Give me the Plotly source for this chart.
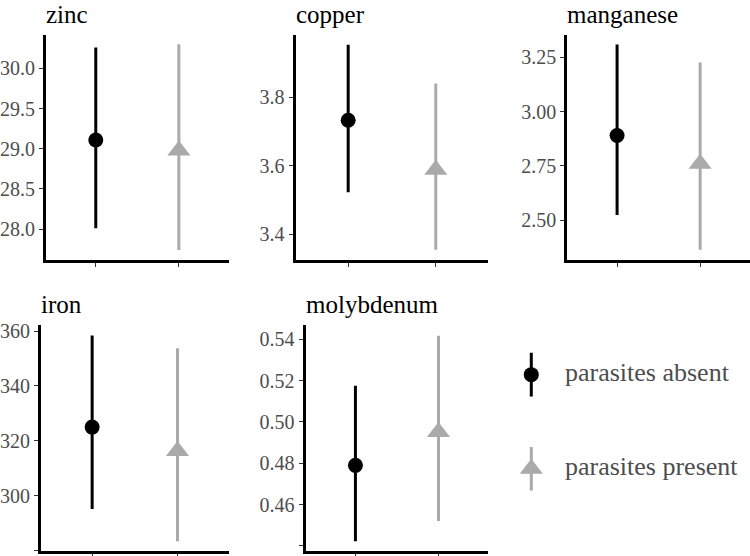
import plotly.graph_objects as go

# ------------------------------------------------------------
# Datos (media e intervalo por mineral)
# ------------------------------------------------------------
MINERALES = ["zinc", "copper", "manganese", "iron", "molybdenum"]
GRUPOS = ["parasites absent", "parasites present"]

ausente_media = [29.11, 3.733, 2.89, 325.0, 0.479]
ausente_inf = [28.01, 3.522, 2.523, 295.1, 0.4423]
ausente_sup = [30.26, 3.954, 3.31, 358.4, 0.5175]

presente_media = [28.98, 3.588, 2.76, 316.3, 0.4951]
presente_inf = [27.74, 3.354, 2.363, 283.4, 0.452]
presente_sup = [30.30, 3.84, 3.227, 353.8, 0.5418]

# rangos y ticks del eje y de cada panel
rangos_y = [[27.62, 30.42], [3.325, 3.983], [2.317, 3.355], [279.8, 362.2], [0.4375, 0.5469]]
ticks_y = [
    [28.0, 28.5, 29.0, 29.5, 30.0],
    [3.4, 3.6, 3.8],
    [2.50, 2.75, 3.00, 3.25],
    [280, 300, 320, 340, 360],
    [0.44, 0.46, 0.48, 0.50, 0.52, 0.54],
]
textos_y = [
    ["28.0", "28.5", "29.0", "29.5", "30.0"],
    ["3.4", "3.6", "3.8"],
    ["2.50", "2.75", "3.00", "3.25"],
    ["", "300", "320", "340", "360"],
    ["", "0.46", "0.48", "0.50", "0.52", "0.54"],
]

# ------------------------------------------------------------
# Estilo
# ------------------------------------------------------------
W, H = 750, 556
FUENTE = "Liberation Serif"
NEGRO = "#000000"
GRIS = "#AAAAAA"
GRIS_TEXTO = "#4D4D4D"


def px_x(x):
    return x / W


def px_y(y):
    return 1 - y / H


# cajas de los paneles en píxeles: (x0, x1, y0, y1), y desde arriba
CAJAS = [
    (45, 228, 30, 257),
    (295, 488, 30, 257),
    (567, 750, 30, 257),
    (40, 228, 323, 551),
    (305, 488, 323, 551),
]

fig = go.Figure()

for i, mineral in enumerate(MINERALES):
    n = "" if i == 0 else str(i + 1)
    x0, x1, y0, y1 = CAJAS[i]

    series = [
        (ausente_media[i], ausente_inf[i], ausente_sup[i], NEGRO, "circle", 15, 1),
        (presente_media[i], presente_inf[i], presente_sup[i], GRIS, "triangle-up", 20, 2),
    ]
    for media, inf, sup, color, simbolo, tam, pos in series:
        fig.add_trace(go.Scatter(
            x=[pos], y=[media],
            xaxis="x" + n, yaxis="y" + n,
            mode="markers",
            marker=dict(color=color, symbol=simbolo, size=tam, line=dict(width=0)),
            error_y=dict(type="data", symmetric=False,
                         array=[sup - media], arrayminus=[media - inf],
                         color=color, thickness=3, width=0),
            showlegend=False, hoverinfo="skip",
        ))

    fig.update_layout(**{
        "xaxis" + n: dict(
            domain=[px_x(x0), px_x(x1)],
            range=[0.4, 2.6],
            tickvals=[1, 2],
            showticklabels=False,
            ticks="outside", ticklen=4, tickcolor="#333333",
            showline=True, linecolor=NEGRO, linewidth=3,
            showgrid=False, zeroline=False,
            anchor="y" + n,
        ),
        "yaxis" + n: dict(
            domain=[px_y(y1), px_y(y0)],
            range=rangos_y[i],
            tickvals=ticks_y[i],
            ticktext=textos_y[i],
            ticks="outside", ticklen=4, tickcolor="#333333",
            tickfont=dict(family=FUENTE, size=20, color=GRIS_TEXTO),
            showline=True, linecolor=NEGRO, linewidth=3,
            showgrid=False, zeroline=False,
            anchor="x" + n,
        ),
    })

    # título del panel
    fig.add_annotation(
        x=px_x(x0 - 2), y=px_y(y0 - 5),
        xref="paper", yref="paper",
        text=mineral, showarrow=False,
        xanchor="left", yanchor="bottom",
        font=dict(family=FUENTE, size=25, color=NEGRO),
    )

# ------------------------------------------------------------
# Leyenda manual (zona inferior derecha)
# ------------------------------------------------------------
LEY_X = 531
LEY_Y = [373, 468]
LEY_MEDIO = 22
leyenda = [(NEGRO, "circle", 15), (GRIS, "triangle-up", 20)]
for (color, simbolo, tam), yy, texto in zip(leyenda, LEY_Y, GRUPOS):
    fig.add_trace(go.Scatter(
        x=[LEY_X], y=[yy], xaxis="x6", yaxis="y6",
        mode="markers",
        marker=dict(color=color, symbol=simbolo, size=tam, line=dict(width=0)),
        error_y=dict(type="constant", value=LEY_MEDIO, color=color, thickness=3, width=0),
        showlegend=False, hoverinfo="skip",
    ))
    fig.add_annotation(
        x=563, y=yy - 2, xref="x6", yref="y6",
        text=texto, showarrow=False,
        xanchor="left", yanchor="middle",
        font=dict(family=FUENTE, size=26, color=GRIS_TEXTO),
    )

fig.update_layout(
    xaxis6=dict(domain=[px_x(500), 1], range=[500, W], visible=False, anchor="y6"),
    yaxis6=dict(domain=[0, px_y(290)], range=[H, 290], visible=False, anchor="x6"),
    width=W, height=H,
    margin=dict(l=0, r=0, t=0, b=0),
    paper_bgcolor="white",
    plot_bgcolor="rgba(0,0,0,0)",
    showlegend=False,
)

# la página se abre a 750x556: quitar el margen por defecto del <body>
fig.write_html(
    "out.html",
    config={"displayModeBar": False},
    post_script="document.body.style.margin='0';document.body.style.overflow='hidden';",
)
